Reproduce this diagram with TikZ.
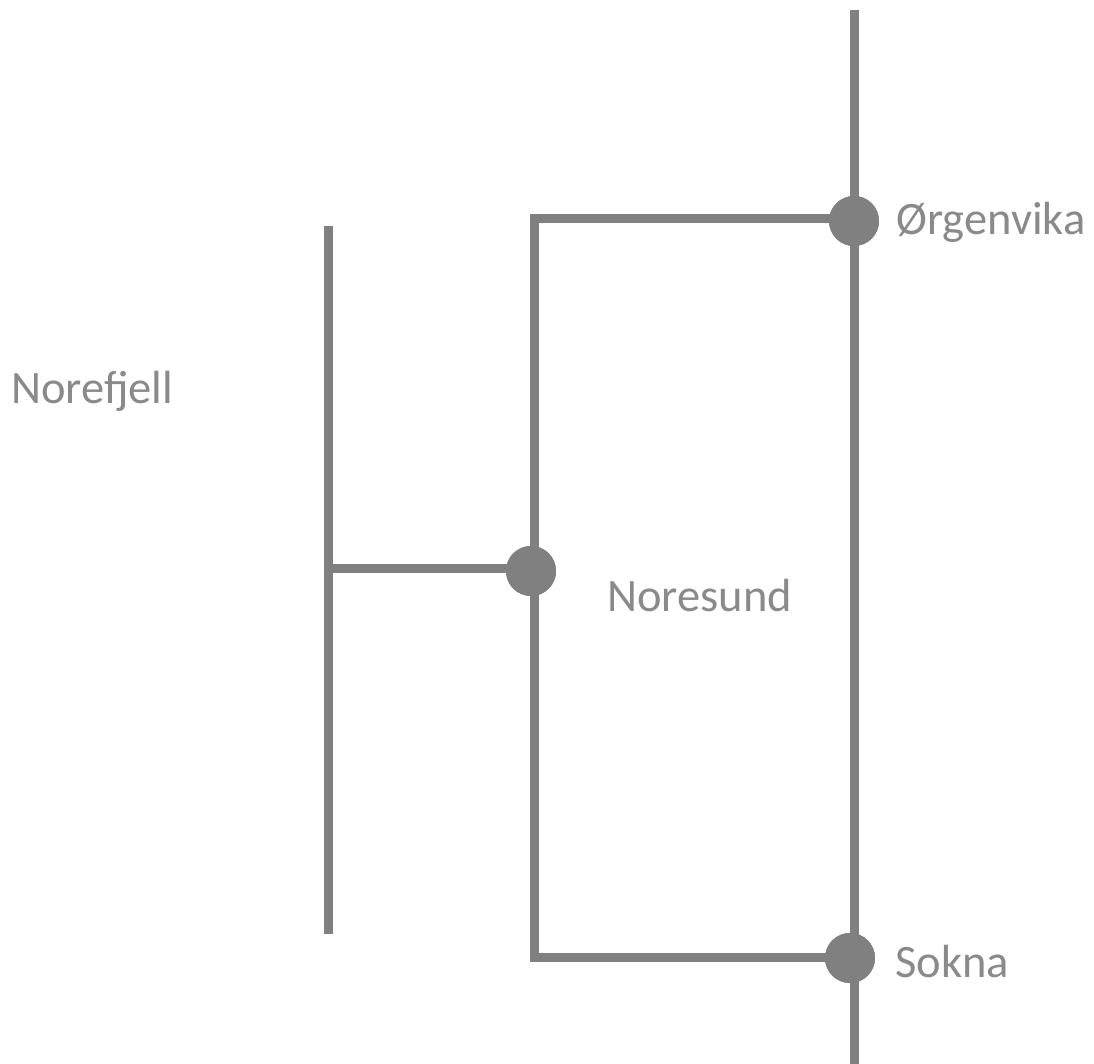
\documentclass[tikz,border=0pt]{standalone}
\usepackage{fontspec}
\setmainfont{Carlito}
\begin{document}
\begin{tikzpicture}[x=1pt,y=-1pt,
  track/.style={draw=linegray, line width=9pt, line join=miter},
  station/.style={circle, fill=linegray, minimum size=50pt, inner sep=0pt},
  lbl/.style={text=textgray, font=\fontsize{46.5}{52}\selectfont, inner sep=0pt, anchor=base west}]
\definecolor{linegray}{HTML}{808080}
\definecolor{textgray}{HTML}{8A8A8A}
\useasboundingbox[fill=white] (0,0) rectangle (1094,1064);
% coordinates
\coordinate (top) at (854,10);
\coordinate (bot) at (854,1064);
\coordinate (c1) at (534,219);
\coordinate (c2) at (534,957);
\coordinate (f1) at (328.5,226);
\coordinate (f2) at (328.5,934);
\coordinate (fj) at (328.5,568);
% stations
\node[station] (org) at (854,221) {};
\node[station] (nor) at (531,571) {};
\node[station] (sok) at (850,958) {};
% lines
\draw[track] (top) -- (bot);
\draw[track] (c1 -| org) -- (c1) -- (c2) -- (c2 -| sok);
\draw[track] (f1) -- (f2);
\draw[track] (fj) -- (fj -| nor);
\node[station] at (org) {};
\node[station] at (nor) {};
\node[station] at (sok) {};
% labels
\node[lbl] (lorg) at (896,235) {Ørgenvika};
\node[lbl] (lnor) at (607,611) {Noresund};
\node[lbl] (lsok) at (895,977) {Sokna};
\node[lbl] (lfj) at (11,403) {Norefjell};
\end{tikzpicture}
\end{document}
